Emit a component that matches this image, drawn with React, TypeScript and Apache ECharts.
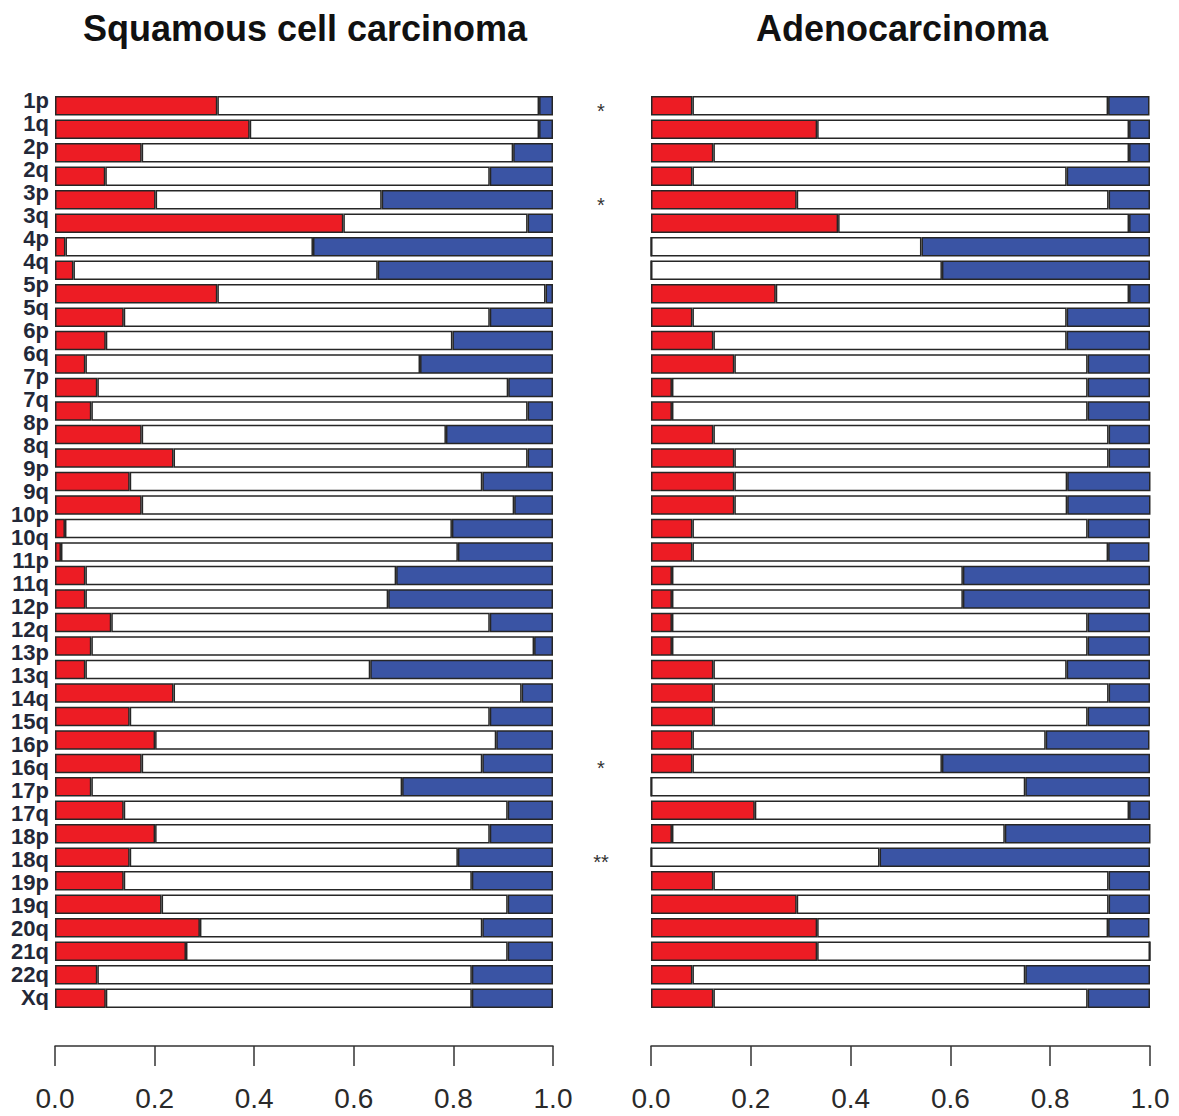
import React, { useEffect, useRef } from "react";
import * as echarts from "echarts";

// Chromosome arm names printed down the left side
const armLabels = [
  "1p", "1q", "2p", "2q", "3p", "3q", "4p", "4q", "5p", "5q",
  "6p", "6q", "7p", "7q", "8p", "8q", "9p", "9q", "10p", "10q",
  "11p", "11q", "12p", "12q", "13p", "13q", "14q", "15q", "16p", "16q",
  "17p", "17q", "18p", "18q", "19p", "19q", "20q", "21q", "22q", "Xq",
];

// Bar rows (top to bottom)
const rowIds = [
  "r1", "r2", "r3", "r4", "r5", "r6", "r7", "r8", "r9", "r10",
  "r11", "r12", "r13", "r14", "r15", "r16", "r17", "r18", "r19", "r20",
  "r21", "r22", "r23", "r24", "r25", "r26", "r27", "r28", "r29", "r30",
  "r31", "r32", "r33", "r34", "r35", "r36", "r37", "r38", "r39",
];

// Significance marks between the panels, one per bar row
const rowStars = [
  "*", "", "", "", "*", "", "", "", "", "",
  "", "", "", "", "", "", "", "", "", "",
  "", "", "", "", "", "", "", "", "*", "",
  "", "", "**", "", "", "", "", "", "",
];

// Squamous cell carcinoma: fraction gained / unchanged / lost
const sccGain = [
  0.326, 0.391, 0.174, 0.101, 0.202, 0.579, 0.021, 0.037, 0.326, 0.138,
  0.102, 0.061, 0.085, 0.073, 0.174, 0.238, 0.150, 0.174, 0.020, 0.012,
  0.061, 0.061, 0.113, 0.073, 0.061, 0.238, 0.150, 0.201, 0.174, 0.073,
  0.138, 0.201, 0.150, 0.138, 0.214, 0.291, 0.263, 0.085, 0.102,
];
const sccNeutral = [
  0.646, 0.581, 0.746, 0.772, 0.454, 0.370, 0.497, 0.611, 0.659, 0.735,
  0.696, 0.672, 0.825, 0.876, 0.611, 0.711, 0.708, 0.748, 0.777, 0.797,
  0.624, 0.608, 0.760, 0.889, 0.572, 0.699, 0.723, 0.685, 0.684, 0.624,
  0.771, 0.672, 0.659, 0.699, 0.695, 0.567, 0.646, 0.752, 0.735,
];
const sccLoss = [
  0.028, 0.028, 0.080, 0.127, 0.344, 0.051, 0.482, 0.352, 0.015, 0.127,
  0.202, 0.267, 0.090, 0.051, 0.215, 0.051, 0.142, 0.078, 0.203, 0.191,
  0.315, 0.331, 0.127, 0.038, 0.367, 0.063, 0.127, 0.114, 0.142, 0.303,
  0.091, 0.127, 0.191, 0.163, 0.091, 0.142, 0.091, 0.163, 0.163,
];

// Adenocarcinoma: fraction gained / unchanged / lost
const adcGain = [
  0.083, 0.333, 0.125, 0.083, 0.292, 0.375, 0, 0, 0.250, 0.083,
  0.125, 0.167, 0.042, 0.042, 0.125, 0.167, 0.167, 0.167, 0.083, 0.083,
  0.042, 0.042, 0.042, 0.042, 0.125, 0.125, 0.125, 0.083, 0.083, 0,
  0.208, 0.042, 0, 0.125, 0.292, 0.333, 0.333, 0.083, 0.125,
];
const adcNeutral = [
  0.833, 0.625, 0.833, 0.750, 0.625, 0.583, 0.542, 0.583, 0.708, 0.750,
  0.708, 0.708, 0.833, 0.833, 0.792, 0.750, 0.667, 0.667, 0.792, 0.833,
  0.583, 0.583, 0.833, 0.833, 0.708, 0.792, 0.750, 0.708, 0.500, 0.750,
  0.750, 0.667, 0.458, 0.792, 0.625, 0.583, 0.667, 0.667, 0.750,
];
const adcLoss = [
  0.083, 0.042, 0.042, 0.167, 0.083, 0.042, 0.458, 0.417, 0.042, 0.167,
  0.167, 0.125, 0.125, 0.125, 0.083, 0.083, 0.167, 0.167, 0.125, 0.083,
  0.375, 0.375, 0.125, 0.125, 0.167, 0.083, 0.125, 0.208, 0.417, 0.250,
  0.042, 0.292, 0.542, 0.083, 0.083, 0.083, 0, 0.250, 0.125,
];

const panelTitles = ["Squamous cell carcinoma", "Adenocarcinoma"];

const RED = "#ed1c24";
const BLUE = "#3a54a4";
const EDGE = "#262626";
const FONT = "'Liberation Sans', Arial, sans-serif";

function valueAxis(gridIndex: number) {
  return {
    gridIndex,
    type: "value",
    min: 0,
    max: 1,
    interval: 0.2,
    offset: 36,
    axisLine: { show: true, lineStyle: { color: "#333", width: 1.5 } },
    axisTick: { show: true, length: 20, lineStyle: { color: "#333", width: 1.5 } },
    axisLabel: {
      margin: 38,
      fontSize: 28,
      color: "#2a2a2a",
      fontFamily: FONT,
      formatter: (v: number) => v.toFixed(1),
    },
    splitLine: { show: false },
  };
}

function stackSeries(stack: string, idx: number, gain: number[], neutral: number[], loss: number[]) {
  const base = {
    type: "bar",
    stack,
    xAxisIndex: idx,
    yAxisIndex: idx,
    barCategoryGap: "17%",
    silent: true,
  };
  return [
    { ...base, name: "gain", data: gain, itemStyle: { color: RED, borderColor: EDGE, borderWidth: 1.5 } },
    { ...base, name: "neutral", data: neutral, itemStyle: { color: "#ffffff", borderColor: EDGE, borderWidth: 1.5 } },
    { ...base, name: "loss", data: loss, itemStyle: { color: BLUE, borderColor: EDGE, borderWidth: 1.5 } },
  ];
}

export default function App() {
  const ref = useRef<HTMLDivElement>(null);

  useEffect(() => {
    if (!ref.current) return;
    const chart = echarts.init(ref.current, null, { renderer: "svg" });
    chart.setOption({
      animation: false,
      backgroundColor: "#ffffff",
      title: [
        {
          text: panelTitles[0],
          left: 300,
          top: 5,
          textAlign: "center",
          textStyle: { fontSize: 36, fontWeight: "bold", color: "#111", fontFamily: FONT },
        },
        {
          text: panelTitles[1],
          left: 897,
          top: 5,
          textAlign: "center",
          textStyle: { fontSize: 36, fontWeight: "bold", color: "#111", fontFamily: FONT },
        },
      ],
      grid: [
        { left: 55, width: 498, top: 94, height: 916 },
        { left: 651, width: 499, top: 94, height: 916 },
        { left: 55, width: 498, top: 88.5, height: 920 },
      ],
      xAxis: [
        valueAxis(0),
        valueAxis(1),
        { gridIndex: 2, type: "value", min: 0, max: 1, show: false },
      ],
      yAxis: [
        { gridIndex: 0, type: "category", inverse: true, data: rowIds, show: false },
        { gridIndex: 1, type: "category", inverse: true, data: rowIds, show: false },
        {
          gridIndex: 2,
          type: "category",
          inverse: true,
          data: armLabels,
          axisLine: { show: false },
          axisTick: { show: false },
          axisLabel: {
            interval: 0,
            margin: 6,
            fontSize: 22,
            fontWeight: "bold",
            color: "#232838",
            fontFamily: FONT,
          },
        },
        {
          gridIndex: 0,
          type: "category",
          inverse: true,
          position: "right",
          data: rowStars,
          axisLine: { show: false },
          axisTick: { show: false },
          axisLabel: {
            interval: 0,
            margin: 48,
            align: "center",
            verticalAlign: "top",
            lineHeight: 10,
            fontSize: 20,
            color: "#333",
            fontFamily: FONT,
          },
        },
      ],
      series: [
        ...stackSeries("scc", 0, sccGain, sccNeutral, sccLoss),
        ...stackSeries("adc", 1, adcGain, adcNeutral, adcLoss),
      ],
    });
    return () => chart.dispose();
  }, []);

  return (
    <div
      ref={ref}
      style={{ position: "absolute", left: 0, top: 0, width: 1179, height: 1116 }}
    />
  );
}
